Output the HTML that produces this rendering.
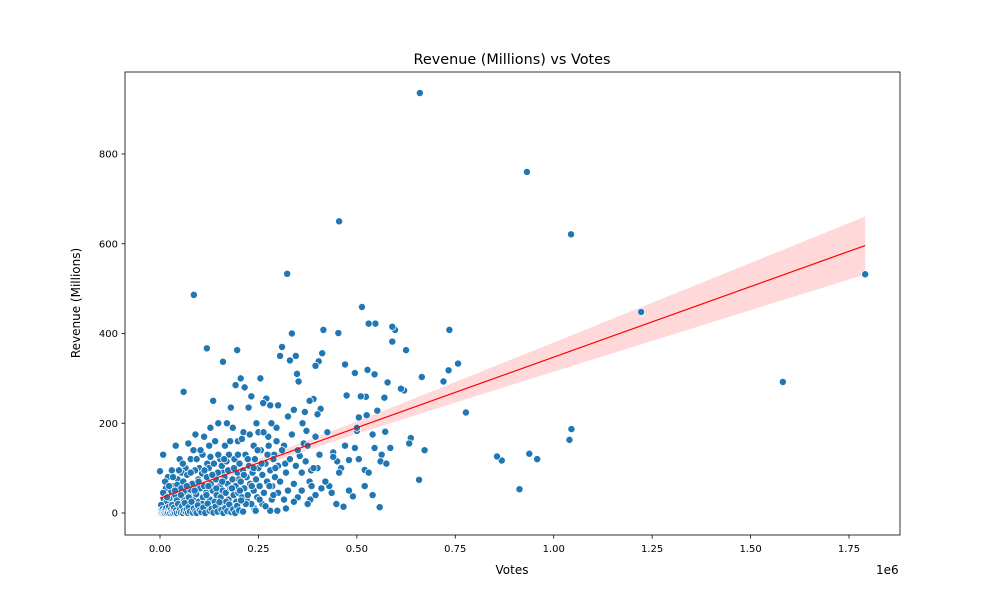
<!DOCTYPE html>
<html><head><meta charset="utf-8"><style>
body{margin:0;background:#fff}
svg{display:block;font-family:"DejaVu Sans","Liberation Sans",sans-serif}
</style></head><body>
<svg id="chart" width="1000" height="600">
<text x="512" y="64" text-anchor="middle" font-size="14.4">Revenue (Millions) vs Votes</text>
<text x="512" y="574" text-anchor="middle" font-size="12">Votes</text>
<text x="876" y="574" font-size="12">1e6</text>
<text transform="translate(80,303) rotate(-90)" text-anchor="middle" font-size="12">Revenue (Millions)</text>
<g id="band"></g><g id="pts"></g><g id="line"></g><g id="axes"></g>
</svg>
<script>
const xTicks=[0,0.25,0.5,0.75,1.0,1.25,1.5,1.75];
const xTickLabels=["0.00","0.25","0.50","0.75","1.00","1.25","1.50","1.75"];
const yTicks=[0,200,400,600,800];
const yTickLabels=["0","200","400","600","800"];
// votes in thousands, revenue in millions
const votes=[660,932,1044,455,1222,1791,1582,323,86,119,196,160,513,1045,1040,958,938,913,868,856,777,757,735,733,720,672,665,658,637,633,625,620,612,597,590,590,578,572,570,563,558,552,547,545,530,527,523,525,520,510,505,500,495,495,490,480,474,470,466,460,453,448,440,430,425,415,412,408,403,395,390,384,382,372,368,362,355,352,348,345,340,335,330,325,318,315,310,305,300,296,290,285,280,275,270,262,255,250,245,238,232,225,215,212,205,200,198,192,185,180,175,170,165,160,153,148,140,135,128,125,120,112,108,100,95,90,85,78,72,65,60,55,50,45,40,35,30,25,20,15,10,5,3,0,8,12,
410,395,375,420,436,455,480,500,505,520,540,545,560,575,585,540,530,470,450,440,400,380,360,350,340,320,300,280,260,240,220,200,
2,4,6,9,11,14,17,19,22,24,27,29,32,34,37,39,42,44,47,49,52,54,57,59,62,64,67,69,72,74,77,79,82,84,87,89,92,94,97,99,102,104,107,109,112,114,117,119,122,124,127,129,132,134,137,139,142,144,147,149,152,154,157,159,162,164,167,169,172,174,177,179,182,184,187,189,192,194,197,199,202,205,208,211,214,217,220,223,226,229,232,235,238,241,244,247,250,253,256,260,264,268,272,276,280,284,288,292,296,300,
3,8,13,18,23,28,33,38,43,48,53,58,63,68,73,78,83,88,93,98,103,108,113,118,123,128,133,138,143,148,153,158,163,168,173,178,183,188,193,198,203,208,213,218,223,228,233,238,243,248,253,258,263,268,273,278,283,288,293,298,305,310,315,320,325,330,335,340,345,350,360,365,370,375,380,385,390,395,400,405,
1,2,3,4,5,6,7,9,10,12,13,15,16,18,20,21,23,25,26,28,30,31,33,35,36,38,41,43,46,48,51,53,56,58,61,63,66,68,71,73,76,80,83,86,90,93,96,101,105,110,115,121,126,131,136,141,146,151,156,161,166,171,176,181,186,191,196,201,206,211];
const revenue=[936,760,621,650,448,532,292,533,486,367,363,337,459,187,163,120,132,53,117,126,224,333,408,318,293,140,303,74,167,155,363,273,277,408,415,382,291,181,257,130,13,228,422,309,422,319,259,218,96,260,213,183,145,312,37,118,262,331,14,100,401,20,135,60,180,408,356,232,338,328,254,95,30,183,225,200,127,293,310,350,230,400,340,215,110,150,370,350,240,190,130,60,240,170,255,245,300,180,200,150,260,235,280,180,300,75,160,285,190,235,130,200,150,90,120,200,160,250,190,150,110,170,130,100,60,175,140,120,155,100,270,90,120,75,150,60,95,40,80,55,30,15,5,93,130,20,
55,40,20,70,45,90,50,190,120,60,40,145,115,110,145,175,90,150,115,125,100,70,50,35,25,10,45,5,20,10,30,5,
0,2,8,3,12,1,25,6,10,33,2,48,15,5,22,40,8,63,18,30,4,55,12,70,28,45,6,85,20,38,52,10,65,30,15,95,42,8,75,25,55,12,88,35,60,4,45,80,20,100,30,65,10,50,110,25,75,40,90,15,60,35,105,50,20,80,45,115,65,30,95,55,10,75,40,120,60,25,90,45,110,70,35,95,55,130,80,40,105,65,20,90,50,120,75,35,100,60,140,85,45,110,70,150,95,30,120,80,160,105,
18,45,70,35,60,5,80,50,28,95,40,110,15,60,35,90,5,50,120,70,140,20,95,40,60,125,85,5,55,130,10,70,120,25,95,160,55,100,15,130,50,165,85,20,120,175,60,100,5,140,30,110,180,15,130,60,200,40,100,5,70,140,30,90,50,120,175,65,105,140,90,155,115,150,250,60,100,170,220,130,
0,3,1,6,0,2,9,1,4,0,7,2,11,0,5,1,14,3,0,8,2,18,0,4,12,1,6,0,20,3,9,1,15,0,5,22,2,8,0,13,3,25,1,10,4,0,17,6,2,12,0,21,5,9,1,14,3,24,7,0,11,4,19,2,8,0,16,6,28,3];
const NS='http://www.w3.org/2000/svg';
const L=125,R=900,T=72,B=535;
const xs=v=>160+v/1750*689;          // v in thousands
const ys=r=>513-r*0.44875;
function mk(tag,attrs,parent){const e=document.createElementNS(NS,tag);for(const k in attrs)e.setAttribute(k,attrs[k]);parent.appendChild(e);return e;}
const n=Math.min(votes.length,revenue.length);
let mx=0,my=0;for(let i=0;i<n;i++){mx+=votes[i];my+=revenue[i];}mx/=n;my/=n;
let sxx=0,sxy=0;for(let i=0;i<n;i++){sxx+=(votes[i]-mx)**2;sxy+=(votes[i]-mx)*(revenue[i]-my);}
const b=sxy/sxx,a=my-b*mx;
let sse=0;for(let i=0;i<n;i++)sse+=(revenue[i]-a-b*votes[i])**2;
const s=Math.sqrt(sse/(n-2));
let vmin=Math.min(...votes),vmax=Math.max(...votes);
let up=[],lo=[];
for(let k=0;k<=60;k++){const v=vmin+(vmax-vmin)*k/60;const f=a+b*v;const se=1.96*s*Math.sqrt(1/n+(v-mx)**2/sxx);up.push(xs(v)+','+ys(f+se));lo.push(xs(v)+','+ys(f-se));}
const band=mk('polygon',{points:up.concat(lo.reverse()).join(' '),fill:'#ff0000','fill-opacity':0.15},document.getElementById('band'));


const pg=document.getElementById('pts');
for(let i=0;i<n;i++){
 const c=mk('circle',{cx:xs(votes[i]),cy:ys(revenue[i]),r:3.6,fill:'#1f77b4',stroke:'#fff','stroke-width':0.75},pg);
 
 
}
const ln=mk('line',{x1:xs(vmin),y1:ys(a+b*vmin),x2:xs(vmax),y2:ys(a+b*vmax),stroke:'#ff0000','stroke-width':1.2},document.getElementById('line'));


const ax=document.getElementById('axes');
const fr=mk('rect',{x:L,y:T,width:R-L,height:B-T,fill:'none',stroke:'#000','stroke-width':0.8},ax);


xTicks.forEach((t,i)=>{const x=xs(t*1000);
 mk('line',{x1:x,y1:B,x2:x,y2:B+3.5,stroke:'#000','stroke-width':0.8},ax);
 const tx=mk('text',{x:x,y:B+17,'text-anchor':'middle','font-size':10},ax);tx.textContent=xTickLabels[i];
 
 
});
yTicks.forEach((t,i)=>{const y=ys(t);
 mk('line',{x1:L-3.5,y1:y,x2:L,y2:y,stroke:'#000','stroke-width':0.8},ax);
 const tx=mk('text',{x:L-7,y:y+3.5,'text-anchor':'end','font-size':10},ax);tx.textContent=yTickLabels[i];
 
 
});
</script>
</body></html>
